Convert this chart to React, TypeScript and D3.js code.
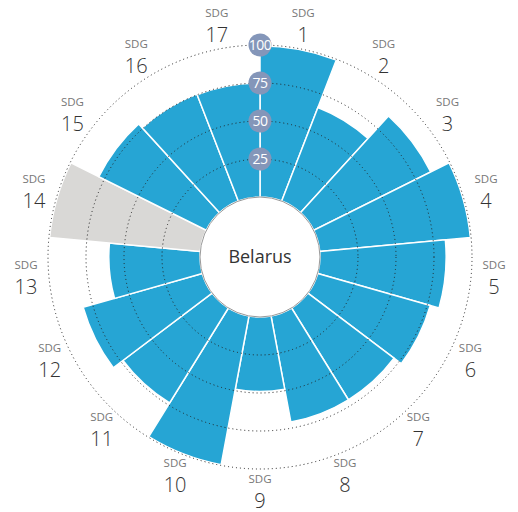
import React from "react";
import * as d3 from "d3";

const country = "Belarus";
const goals = ["1", "2", "3", "4", "5", "6", "7", "8", "9", "10", "11", "12", "13", "14", "15", "16", "17"];
const scores = [99.5, 66, 86, 99.5, 83, 77, 71, 71, 49, 99.5, 73.5, 81.5, 60, 99.5, 79, 75.5, 75];
const noData = ["14"];
const ticks = [25, 50, 75, 100];

const W = 518;
const H = 512;
const cx = 260;
const cy = 257;
const inner = 60;
const outer = 212;
const labelR = 235;
const blue = "#26a5d4";
const grey = "#d9d8d6";
const font = "'Open Sans', 'Noto Sans', sans-serif";

export default function App() {
  const r = d3.scaleLinear().domain([0, 100]).range([inner, outer]);
  const angle = d3
    .scaleBand<string>()
    .domain(goals)
    .range([0, 2 * Math.PI]);
  const arc = d3.arc<number>();

  return (
    <svg width={W} height={H} style={{ position: "absolute", left: 0, top: 0 }}>
      <g transform={`translate(${cx},${cy})`}>
        {goals.map((g, i) => (
          <path
            key={g}
            d={
              arc({
                innerRadius: inner,
                outerRadius: r(scores[i]),
                startAngle: angle(g)!,
                endAngle: angle(g)! + angle.bandwidth(),
              } as any) || ""
            }
            fill={noData.includes(g) ? grey : blue}
            stroke="#fff"
            strokeWidth={1.5}
          />
        ))}
        {ticks.map((t) => (
          <circle
            key={t}
            r={r(t)}
            fill="none"
            stroke="#222"
            strokeWidth={1}
            strokeDasharray="1,3"
          />
        ))}
        <circle r={inner} fill="#fff" stroke="#999" strokeWidth={1} />
        <text
          y={6}
          textAnchor="middle"
          fontFamily={font}
          fontSize={18}
          fill="#333"
        >
          {country}
        </text>
        {ticks.map((t) => (
          <g key={t} transform={`translate(0,${-r(t)})`}>
            <circle r={11.5} fill="#8496b9" />
            <text
              y={5}
              textAnchor="middle"
              fontFamily={font}
              fontSize={14}
              fill="#fff"
              letterSpacing={-0.5}
            >
              {t}
            </text>
          </g>
        ))}
        {goals.map((g) => {
          const a = angle(g)! + angle.bandwidth() / 2;
          const x = labelR * Math.sin(a);
          const y = -labelR * Math.cos(a);
          return (
            <g key={g} transform={`translate(${x},${y})`} fontFamily={font} textAnchor="middle">
              <text y={-9.5} fontSize={11.5} fill="#777">
                SDG
              </text>
              <text y={15.5} fontSize={20} fontWeight={300} fill="#333">
                {g}
              </text>
            </g>
          );
        })}
      </g>
    </svg>
  );
}
